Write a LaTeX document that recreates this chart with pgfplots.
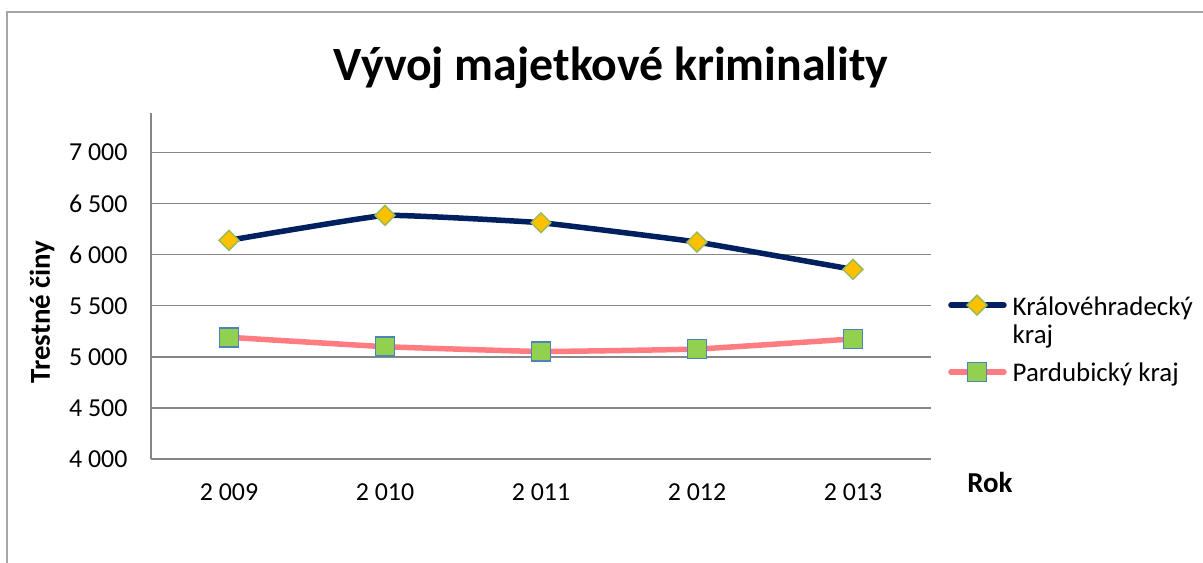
\documentclass[border=0pt]{standalone}
\usepackage{pgfplots}
\pgfplotsset{compat=1.18}
\usepackage{fontspec}
\setmainfont{Carlito}
\definecolor{navy}{RGB}{0,32,96}
\definecolor{pinkline}{RGB}{255,124,128}
\definecolor{gold}{RGB}{255,192,0}
\definecolor{olivec}{RGB}{155,187,89}
\definecolor{lgreen}{RGB}{146,208,80}
\definecolor{sblue}{RGB}{79,129,189}
\definecolor{gridgray}{RGB}{134,134,134}
\definecolor{framegray}{RGB}{165,165,165}
\begin{document}
\begin{tikzpicture}[x=1bp,y=1bp]
\useasboundingbox (0,0) rectangle (1203,563);
\draw[framegray, line width=1.5bp] (7,0) -- (7,551) -- (1203,551);
\node[font=\fontsize{48}{56}\selectfont\bfseries] at (611,495) {Vývoj majetkové kriminality};
\begin{axis}[
  at={(151bp,104bp)}, anchor=south west,
  scale only axis, width=780bp, height=346bp,
  xmin=-0.5, xmax=4.5, ymin=4000, ymax=7386,
  xtick={0,1,2,3,4}, xticklabels={2 009,2 010,2 011,2 012,2 013},
  ytick={4000,4500,5000,5500,6000,6500,7000},
  yticklabels={4 000,4 500,5 000,5 500,6 000,6 500,7 000},
  ymajorgrids, grid style={gridgray, line width=1.5bp},
  axis x line*=bottom, axis y line*=left,
  axis line style={gridgray, line width=1.5bp},
  major tick length=0pt,
  tick label style={font=\fontsize{26}{30}\selectfont},
  yticklabel style={xshift=-20bp},
  xticklabel style={yshift=-21bp},
  xlabel={Rok}, ylabel={Trestné činy},
  xlabel style={font=\fontsize{29}{34}\selectfont\bfseries, at={(rel axis cs:1.0756,-0.069)}, anchor=center},
  ylabel style={font=\fontsize{29}{34}\selectfont\bfseries, at={(rel axis cs:-0.1397,0.425)}, anchor=center},
  legend style={draw=none, fill=none, at={(rel axis cs:1.0218,0.4798)}, anchor=north west,
    inner sep=0pt, row sep=0pt, column sep=6bp,
    font=\fontsize{27}{32}\selectfont,
    nodes={inner sep=0pt}},
  legend cell align=left,
  legend image code/.code={\draw[mark repeat=2,mark phase=2,line cap=round,#1] plot coordinates {(2bp,10bp) (28bp,10bp) (55bp,10bp)};},
  clip=false,
]
\addplot[navy, line width=5.5bp, smooth, tension=0.18, mark=square*, mark size=7bp,
  mark options={rotate=45, fill=gold, draw=olivec, line width=1.5bp, solid}]
  coordinates {(0,6140) (1,6384) (2,6312) (3,6123) (4,5855)};
\addlegendentry[anchor=base west, text height=22bp, text depth=6bp]{Královéhradecký}
\addlegendimage{empty legend}
\addlegendentry[anchor=base west, text height=22bp, text depth=16.7bp]{kraj}
\addplot[pinkline, line width=5.5bp, smooth, tension=0.18, mark=square*, mark size=9.5bp,
  mark options={fill=lgreen, draw=sblue, line width=1.5bp, solid}]
  coordinates {(0,5191) (1,5099) (2,5052) (3,5076) (4,5175)};
\addlegendentry[anchor=base west, text height=22bp, text depth=6bp]{Pardubický kraj}
\end{axis}
\end{tikzpicture}
\end{document}
